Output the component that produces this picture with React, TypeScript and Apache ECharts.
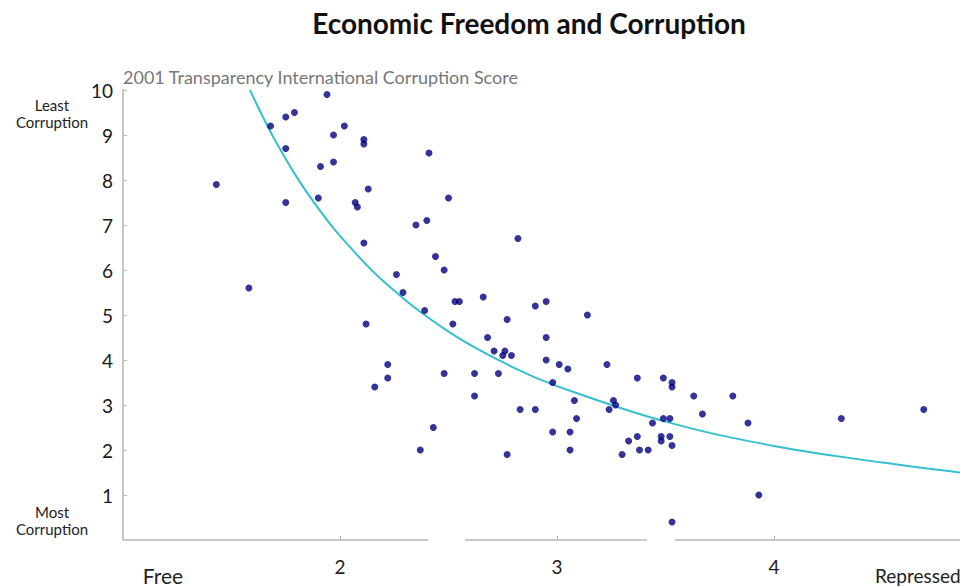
import React, { useEffect, useRef } from "react";
import * as echarts from "echarts";

// Economic freedom index (1 = free, 5 = repressed)
const freedom = [
  1.43, 1.58, 1.68, 1.75, 1.79, 1.75, 1.75, 1.94, 1.91, 1.97,
  1.97, 2.02, 1.9, 2.11, 2.11, 2.07, 2.08, 2.13, 2.11, 2.12,
  2.26, 2.29, 2.22, 2.22, 2.16, 2.37, 2.43, 2.48, 2.39, 2.41,
  2.5, 2.35, 2.4, 2.82, 2.44, 2.48, 2.53, 2.55, 2.66, 2.9,
  2.95, 3.14, 2.52, 2.77, 2.68, 2.95, 2.71, 2.75, 2.76, 2.79,
  2.95, 3.01, 3.05, 3.23, 2.62, 2.73, 3.37, 3.49, 3.53, 3.53,
  2.98, 2.62, 3.26, 3.27, 3.24, 3.08, 2.83, 2.9, 3.09, 3.49,
  3.52, 3.44, 2.98, 3.06, 3.37, 3.33, 3.48, 3.48, 3.52, 3.53,
  3.06, 3.38, 3.42, 3.3, 2.77, 3.63, 3.81, 3.67, 3.88, 4.31,
  4.69, 3.93, 3.53,
];
// 2001 Transparency International corruption score
const corruption = [
  7.9, 5.6, 9.2, 9.4, 9.5, 8.7, 7.5, 9.9, 8.3, 8.4,
  9.0, 9.2, 7.6, 8.9, 8.8, 7.5, 7.4, 7.8, 6.6, 4.8,
  5.9, 5.5, 3.9, 3.6, 3.4, 2.0, 2.5, 3.7, 5.1, 8.6,
  7.6, 7.0, 7.1, 6.7, 6.3, 6.0, 5.3, 5.3, 5.4, 5.2,
  5.3, 5.0, 4.8, 4.9, 4.5, 4.5, 4.2, 4.1, 4.2, 4.1,
  4.0, 3.9, 3.8, 3.9, 3.7, 3.7, 3.6, 3.6, 3.5, 3.4,
  3.5, 3.2, 3.1, 3.0, 2.9, 3.1, 2.9, 2.9, 2.7, 2.7,
  2.7, 2.6, 2.4, 2.4, 2.3, 2.2, 2.3, 2.2, 2.3, 2.1,
  2.0, 2.0, 2.0, 1.9, 1.9, 3.2, 3.2, 2.8, 2.6, 2.7,
  2.9, 1.0, 0.4,
];

// Trend curve
const trendX = [1.585, 1.65, 1.7, 1.8, 1.9, 2.0, 2.2, 2.5, 2.8, 3.0, 3.5, 4.0, 4.5, 4.857];
const trendY = [10, 9.35, 8.89, 8.07, 7.37, 6.76, 5.75, 4.63, 3.83, 3.42, 2.63, 2.09, 1.72, 1.5];

const xTickValues = [2, 3, 4];
const xMin = 1;
const xMax = 4.857;
const yTickLabels = ["", "1", "2", "3", "4", "5", "6", "7", "8", "9", "10"];
// segments of the x baseline (it has two small gaps)
const baselineSegments = [
  [1, 2.406],
  [2.576, 3.415],
  [3.544, 4.857],
];

const FONT = "Lato, 'Open Sans', sans-serif";

export default function App() {
  const ref = useRef<HTMLDivElement>(null);

  useEffect(() => {
    if (!ref.current) return;
    const chart = echarts.init(ref.current, undefined, { renderer: "svg" });

    const scatterData = freedom.map((x, i) => [x, corruption[i]]);
    const trendData = trendX.map((x, i) => [x, trendY[i]]);

    const baselineSeries = baselineSegments.map((seg) => ({
      type: "line",
      data: [
        [seg[0], 0],
        [seg[1], 0],
      ],
      symbol: "none",
      silent: true,
      clip: false,
      lineStyle: { color: "#c8c8c8", width: 2 },
      z: 1,
    }));

    const text = (
      t: string,
      x: number,
      y: number,
      size: number,
      align: string,
      color = "#222",
      weight = "normal",
      lineHeight?: number
    ) => ({
      type: "text",
      x,
      y,
      style: {
        text: t,
        fill: color,
        font: `${weight} ${size}px ${FONT}`,
        lineHeight: lineHeight ?? size + 2,
        textAlign: align,
        textVerticalAlign: "middle",
        align,
        verticalAlign: "middle",
      },
    });

    chart.setOption({
      animation: false,
      backgroundColor: "#ffffff",
      grid: { left: 123, top: 90, width: 837, height: 450, containLabel: false },
      xAxis: {
        type: "value",
        min: xMin,
        max: xMax,
        axisLine: { show: false },
        splitLine: { show: false },
        axisTick: {
          show: true,
          inside: true,
          length: 4,
          customValues: xTickValues,
          lineStyle: { color: "#aaa" },
        },
        axisLabel: {
          customValues: xTickValues,
          margin: 17,
          fontSize: 19,
          color: "#222",
          fontFamily: FONT,
        },
      },
      yAxis: {
        type: "value",
        min: 0,
        max: 10,
        interval: 1,
        axisLine: { show: true, lineStyle: { color: "#c8c8c8", width: 2 } },
        splitLine: { show: false },
        axisTick: { show: true, inside: true, length: 4, lineStyle: { color: "#bbb" } },
        axisLabel: {
          margin: 10,
          fontSize: 19,
          color: "#1a1a1a",
          fontFamily: FONT,
          formatter: (v: number) => yTickLabels[Math.round(v)] ?? "",
        },
      },
      series: [
        ...baselineSeries,
        {
          type: "line",
          data: trendData,
          smooth: 0.4,
          symbol: "none",
          silent: true,
          lineStyle: { color: "#35bfd0", width: 2 },
          z: 2,
        },
        {
          type: "scatter",
          data: scatterData,
          symbol: "circle",
          symbolSize: 7,
          itemStyle: { color: "#00007f" },
          z: 3,
        },
      ],
      graphic: [
        text("Economic Freedom and Corruption", 529, 23, 28, "center", "#111", "bold"),
        text("2001 Transparency International Corruption Score", 123, 77, 18, "left", "#777"),
        text("Least\nCorruption", 52, 113, 15, "center", "#222", "normal", 17),
        text("Most\nCorruption", 52, 520, 15, "center", "#222", "normal", 17),
        text("Free", 163, 575, 21, "center"),
        text("Repressed", 875, 575, 19, "left"),
      ],
    });

    return () => chart.dispose();
  }, []);

  return (
    <div
      ref={ref}
      style={{ position: "absolute", left: 0, top: 0, width: 960, height: 587 }}
    />
  );
}
